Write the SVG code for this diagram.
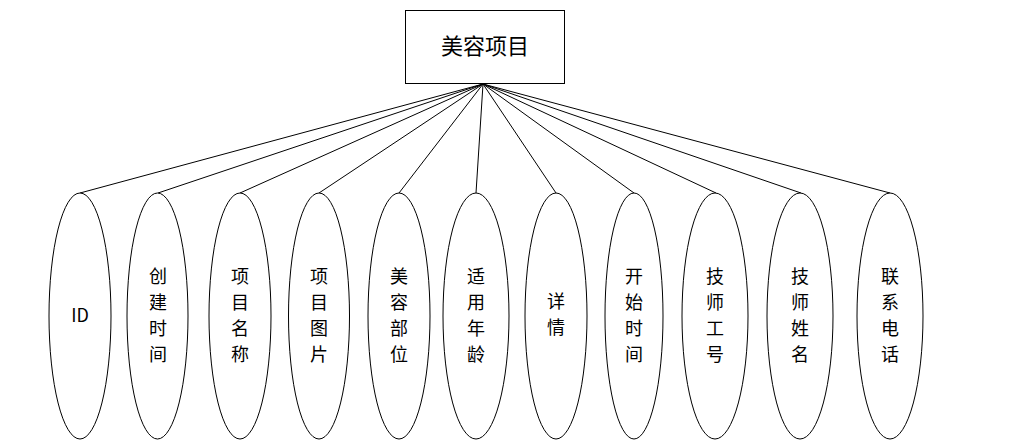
<svg xmlns="http://www.w3.org/2000/svg" width="1020" height="446" viewBox="0 0 1020 446">
<style>
.n{fill:#fff;stroke:#000;stroke-width:1}
.c{stroke:#000;stroke-width:1;fill:none}
text{font-family:"Noto Sans CJK SC","Liberation Sans",sans-serif;font-size:18px;fill:#000;text-anchor:middle}
</style>
<rect width="1020" height="446" fill="#fff"/>
<g id="connectors">
<line class="c" x1="483" y1="84" x2="80" y2="193"/>
<line class="c" x1="483" y1="84" x2="158" y2="193"/>
<line class="c" x1="483" y1="84" x2="240" y2="193"/>
<line class="c" x1="483" y1="84" x2="319" y2="193"/>
<line class="c" x1="483" y1="84" x2="399" y2="193"/>
<line class="c" x1="483" y1="84" x2="476" y2="193"/>
<line class="c" x1="483" y1="84" x2="556" y2="193"/>
<line class="c" x1="483" y1="84" x2="634" y2="193"/>
<line class="c" x1="483" y1="84" x2="716" y2="193"/>
<line class="c" x1="483" y1="84" x2="801" y2="193"/>
<line class="c" x1="483" y1="84" x2="890" y2="193"/>
</g>
<g id="main">
<rect class="n" x="405.5" y="10.5" width="159" height="73"/>
<text x="485" y="54" style="font-size:22px">美容项目</text>
</g>
<g id="a1"><ellipse class="n" cx="80" cy="316" rx="31" ry="123"/><text x="80" y="322">ID</text></g>
<g id="a2"><ellipse class="n" cx="157.5" cy="316" rx="30.5" ry="123"/><text x="158" y="283">创</text><text x="158" y="309">建</text><text x="158" y="335">时</text><text x="158" y="361">间</text></g>
<g id="a3"><ellipse class="n" cx="240" cy="316" rx="31" ry="123"/><text x="240" y="283">项</text><text x="240" y="309">目</text><text x="240" y="335">名</text><text x="240" y="361">称</text></g>
<g id="a4"><ellipse class="n" cx="319" cy="316" rx="30.5" ry="123"/><text x="319" y="283">项</text><text x="319" y="309">目</text><text x="319" y="335">图</text><text x="319" y="361">片</text></g>
<g id="a5"><ellipse class="n" cx="399" cy="316" rx="31" ry="123"/><text x="399" y="283">美</text><text x="399" y="309">容</text><text x="399" y="335">部</text><text x="399" y="361">位</text></g>
<g id="a6"><ellipse class="n" cx="476" cy="316" rx="33" ry="123"/><text x="476" y="283">适</text><text x="476" y="309">用</text><text x="476" y="335">年</text><text x="476" y="361">龄</text></g>
<g id="a7"><ellipse class="n" cx="556" cy="316" rx="31" ry="123"/><text x="556" y="308">详</text><text x="556" y="334">情</text></g>
<g id="a8"><ellipse class="n" cx="634" cy="316" rx="29" ry="123"/><text x="634" y="283">开</text><text x="634" y="309">始</text><text x="634" y="335">时</text><text x="634" y="361">间</text></g>
<g id="a9"><ellipse class="n" cx="715" cy="316" rx="33" ry="123"/><text x="715" y="283">技</text><text x="715" y="309">师</text><text x="715" y="335">工</text><text x="715" y="361">号</text></g>
<g id="a10"><ellipse class="n" cx="800" cy="316" rx="33" ry="123"/><text x="800" y="283">技</text><text x="800" y="309">师</text><text x="800" y="335">姓</text><text x="800" y="361">名</text></g>
<g id="a11"><ellipse class="n" cx="890" cy="316" rx="33" ry="123"/><text x="890" y="283">联</text><text x="890" y="309">系</text><text x="890" y="335">电</text><text x="890" y="361">话</text></g>
</svg>
